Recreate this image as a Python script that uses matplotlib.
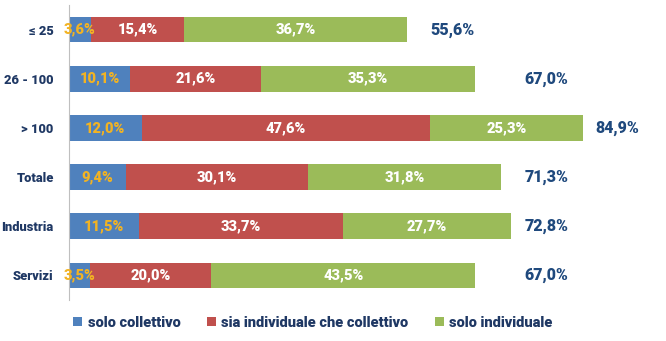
import matplotlib.pyplot as plt
from matplotlib.patches import Patch

# data
categories = ['≤ 25', '26 - 100', '> 100', 'Totale', 'Industria', 'Servizi']
solo_coll = [3.6, 10.1, 12.0, 9.4, 11.5, 3.5]
sia_ind_coll = [15.4, 21.6, 47.6, 30.1, 33.7, 20.0]
solo_ind = [36.7, 35.3, 25.3, 31.8, 27.7, 43.5]
totals = [55.6, 67.0, 84.9, 71.3, 72.8, 67.0]
series_names = ['solo collettivo', 'sia individuale che collettivo', 'solo individuale']

# layout: where the total labels start (axis units)
tot_x = [59.6, 75.2, 86.8, 75.2, 75.2, 75.2]

plt.rcParams['font.family'] = ['Roboto', 'DejaVu Sans']
navy = '#1F3864'
colors = ['#4F81BD', '#C0504D', '#9BBB59']
txt_colors = ['#F2B323', 'white', 'white']
W = 'heavy'

fig = plt.figure(figsize=(6.66, 3.41), dpi=100)
ax = fig.add_axes([69 / 666, 1 - 300 / 341, (650 - 69) / 666, 295 / 341])

y = list(range(len(categories)))
left = [0.0] * len(categories)
for vals, c, tc in zip([solo_coll, sia_ind_coll, solo_ind], colors, txt_colors):
    ax.barh(y, vals, left=left, height=0.52, color=c, edgecolor='none')
    for i, v in enumerate(vals):
        ax.text(left[i] + v / 2, i, '{:.1f}%'.format(v).replace('.', ','),
                ha='center', va='center', color=tc, fontsize=10.5, fontweight=W)
    left = [l + v for l, v in zip(left, vals)]

for i, t in enumerate(totals):
    ax.text(tot_x[i], i, '{:.1f}%'.format(t).replace('.', ','),
            ha='left', va='center', color='#1F497D', fontsize=11.5, fontweight=W)

ax.set_ylim(5.5, -0.5)
ax.set_xlim(0, (650 - 69) / 6.06)
ax.set_yticks(y)
ax.set_yticklabels(categories, fontsize=9.25, fontweight=W, color=navy)
ax.tick_params(axis='y', length=0, pad=11)
ax.set_xticks([])
for s in ['top', 'right', 'bottom']:
    ax.spines[s].set_visible(False)
ax.spines['left'].set_color('#BFBFBF')

handles = [Patch(facecolor=c, edgecolor='none') for c in colors]
leg = fig.legend(handles, series_names, loc='center', bbox_to_anchor=(313 / 666, 1 - 323 / 341),
                 ncol=3, frameon=False, handlelength=0.6, handleheight=0.6,
                 handletextpad=0.4, columnspacing=1.8,
                 prop={'size': 10.5, 'weight': W})
for t in leg.get_texts():
    t.set_color(navy)

fig.savefig('out.png')
